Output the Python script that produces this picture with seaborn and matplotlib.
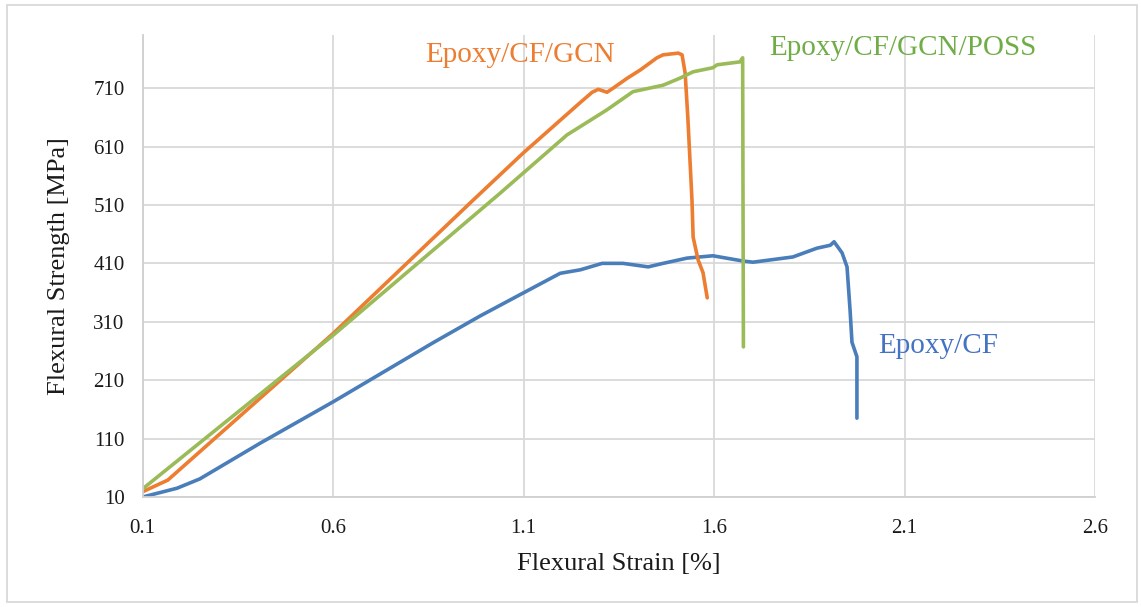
import matplotlib
matplotlib.use("Agg")
import matplotlib.pyplot as plt
import seaborn as sns
import pandas as pd
from matplotlib.patches import Rectangle

# ---- data ----
blue_x = [0.1, 0.19, 0.25, 0.408, 0.6, 0.862, 0.986, 1.098, 1.196, 1.249, 1.306, 1.361, 1.427,
          1.466, 1.529, 1.597, 1.676, 1.702, 1.807, 1.870, 1.905, 1.915, 1.936, 1.949, 1.957,
          1.962, 1.975, 1.975]
blue_y = [10, 25, 41, 102, 173, 274, 320, 359, 393, 399, 410, 410, 404,
          410, 419, 423, 414, 412, 421, 436, 441, 447, 428, 404, 330,
          275, 250, 145]

orange_x = [0.1, 0.166, 0.6, 0.967, 1.099, 1.203, 1.248, 1.280, 1.296, 1.319, 1.335, 1.372,
            1.406, 1.450, 1.466, 1.506, 1.516, 1.524, 1.531, 1.542, 1.545, 1.558, 1.571, 1.582]
orange_y = [19, 39, 290, 518, 599, 659, 685, 703, 708, 703, 710, 727,
            741, 762, 767, 770, 767, 736, 661, 518, 455, 416, 394, 351]

green_x = [0.1, 0.6, 1.038, 1.214, 1.319, 1.387, 1.466, 1.510, 1.545, 1.597, 1.608, 1.668,
           1.675, 1.677]
green_y = [24, 287, 530, 630, 673, 704, 715, 727, 738, 745, 750, 755, 762, 267]

series_names = ["Epoxy/CF", "Epoxy/CF/GCN", "Epoxy/CF/GCN/POSS"]
x_ticks = [0.1, 0.6, 1.1, 1.6, 2.1, 2.6]
y_ticks = [10, 110, 210, 310, 410, 510, 610, 710]

line_colors = {"Epoxy/CF": "#4a7ebb", "Epoxy/CF/GCN": "#ed7d31", "Epoxy/CF/GCN/POSS": "#9bbb59"}
text_colors = {"Epoxy/CF": "#4472c4", "Epoxy/CF/GCN": "#ed7d31", "Epoxy/CF/GCN/POSS": "#70ad47"}

frames = []
for name, xs, ys in zip(series_names, [blue_x, orange_x, green_x], [blue_y, orange_y, green_y]):
    frames.append(pd.DataFrame({"strain": xs, "strength": ys, "series": name}))
df = pd.concat(frames, ignore_index=True)

sns.set_theme(style="white")
plt.rcParams["font.family"] = ["Liberation Serif", "DejaVu Serif"]

fig = plt.figure(figsize=(11.41, 6.07), dpi=100)
ax = fig.add_axes([142.7 / 1141, 110 / 607, (1095 - 142.7) / 1141, (497 - 35) / 607])

sns.lineplot(data=df, x="strain", y="strength", hue="series", units="series",
             estimator=None, sort=False, palette=line_colors, linewidth=2.6,
             legend=False, ax=ax)

ax.set_xlim(0.1, 2.6)
ax.set_ylim(10, 801)
ax.set_xticks(x_ticks)
ax.set_xticklabels([f"{v:.1f}" for v in x_ticks])
ax.set_yticks(y_ticks)
ax.set_yticklabels([str(v) for v in y_ticks])
ax.grid(True, color="#d9d9d9", linewidth=1.3)
ax.set_axisbelow(True)
for s in ["top", "right"]:
    ax.spines[s].set_visible(False)
for s in ["left", "bottom"]:
    ax.spines[s].set_color("#d0d0d0")
    ax.spines[s].set_linewidth(1.3)
ax.tick_params(axis="both", length=0, labelsize=15, colors="#1a1a1a")
ax.tick_params(axis="y", pad=13)
ax.tick_params(axis="x", pad=16)
ax.set_xlabel("Flexural Strain [%]", fontsize=19, color="#1a1a1a", labelpad=11)
ax.set_ylabel("Flexural Strength [MPa]", fontsize=19, color="#1a1a1a", labelpad=17)

ax.text(0.841, 755, "Epoxy/CF/GCN", color=text_colors["Epoxy/CF/GCN"], fontsize=21,
        ha="left", va="baseline")
ax.text(1.744, 767, "Epoxy/CF/GCN/POSS", color=text_colors["Epoxy/CF/GCN/POSS"], fontsize=21,
        ha="left", va="baseline")
ax.text(2.030, 257, "Epoxy/CF", color=text_colors["Epoxy/CF"], fontsize=21,
        ha="left", va="baseline")

fig.patches.append(Rectangle((7 / 1141, 5 / 607), 1130 / 1141, 597 / 607,
                             transform=fig.transFigure, fill=False,
                             edgecolor="#d9d9d9", linewidth=1.3))

fig.savefig("out.png", dpi=100, facecolor="white")
